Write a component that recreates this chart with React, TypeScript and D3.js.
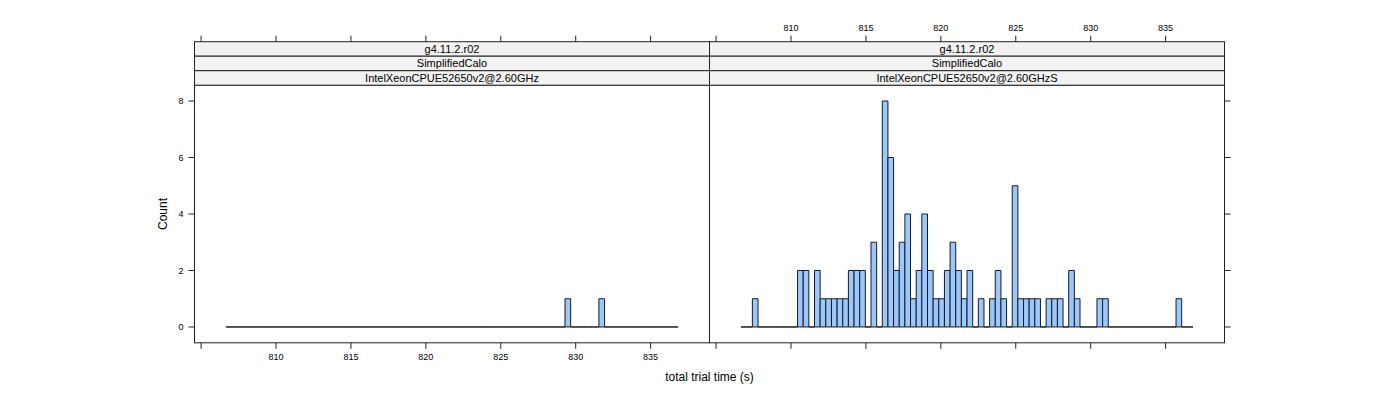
import React from "react";
import * as d3 from "d3";

// ---- data ----
const PANEL_STRIPS = [
  ["g4.11.2.r02", "SimplifiedCalo", "IntelXeonCPUE52650v2@2.60GHz"],
  ["g4.11.2.r02", "SimplifiedCalo", "IntelXeonCPUE52650v2@2.60GHzS"],
];
const BREAK_MIN = 806.667;
const BREAK_MAX = 836.827;
const N_BINS = 80;
// counts per bin (80 bins) for each panel
const countsLeft = [
  0,0,0,0,0,0,0,0,0,0, 0,0,0,0,0,0,0,0,0,0,
  0,0,0,0,0,0,0,0,0,0, 0,0,0,0,0,0,0,0,0,0,
  0,0,0,0,0,0,0,0,0,0, 0,0,0,0,0,0,0,0,0,0,
  1,0,0,0,0,0,1,0,0,0, 0,0,0,0,0,0,0,0,0,0,
];
const countsRight = [
  0,0,1,0,0,0,0,0,0,0, 2,2,0,2,1,1,1,1,1,2,
  2,2,0,3,0,8,6,2,3,4, 1,2,4,2,1,1,2,3,2,1,
  2,0,1,0,1,2,1,0,5,1, 1,1,1,0,1,1,1,0,2,1,
  0,0,0,1,1,0,0,0,0,0, 0,0,0,0,0,0,0,1,0,0,
];
const xTicks = [805, 810, 815, 820, 825, 830, 835];
const xTickLabels = ["", "810", "815", "820", "825", "830", "835"];
const yTicks = [0, 2, 4, 6, 8];
const X_DOMAIN = [804.56, 838.93];
const Y_DOMAIN = [-0.56, 8.56];

// ---- layout ----
const panelLefts = [194.5, 709.5];
const PANEL_W = 515;
const PANEL_TOP = 85.2;
const PANEL_BOTTOM = 342.8;
const STRIP_TOP = 41.7;
const STRIP_H = (PANEL_TOP - STRIP_TOP) / 3;
const FONT = "'Liberation Sans', Arial, Helvetica, sans-serif";

export default function App() {
  const y = d3.scaleLinear().domain(Y_DOMAIN).range([PANEL_BOTTOM, PANEL_TOP]);
  const binW = (BREAK_MAX - BREAK_MIN) / N_BINS;
  const panels = [countsLeft, countsRight];

  return (
    <svg width={1400} height={400} style={{ position: "absolute", left: 0, top: 0 }} fontFamily={FONT}>
      <rect width={1400} height={400} fill="#fff" />
      {panels.map((counts, pi) => {
        const left = panelLefts[pi];
        const x = d3.scaleLinear().domain(X_DOMAIN).range([left, left + PANEL_W]);
        const bins = counts.map((c, i) => ({ x0: BREAK_MIN + i * binW, x1: BREAK_MIN + (i + 1) * binW, c }));
        return (
          <g key={pi}>
            {/* bars */}
            {bins.map((b, i) => {
              const xa = x(b.x0), xb = x(b.x1), y0 = y(0), y1 = y(b.c);
              return (
                <path
                  key={i}
                  d={`M${xa},${y0}V${y1}H${xb}V${y0}Z`}
                  fill="#99c8ff"
                  stroke="#1a1a1a"
                  strokeWidth={1}
                />
              );
            })}
            {/* panel border */}
            <rect x={left} y={PANEL_TOP} width={PANEL_W} height={PANEL_BOTTOM - PANEL_TOP} fill="none" stroke="#222" strokeWidth={1} />
            {/* strips */}
            {PANEL_STRIPS[pi].map((s, si) => {
              const sy = STRIP_TOP + si * STRIP_H;
              return (
                <g key={si}>
                  <rect x={left} y={sy} width={PANEL_W} height={STRIP_H} fill="#f2f2f2" stroke="#222" strokeWidth={1} />
                  <text x={left + PANEL_W / 2} y={sy + STRIP_H / 2} dy="0.35em" textAnchor="middle" fontSize={11} fill="#000">
                    {s}
                  </text>
                </g>
              );
            })}
            {/* x ticks: bottom for both, labels on bottom for left, top for right */}
            {xTicks.map((t, ti) => {
              const tx = x(t);
              return (
                <g key={ti}>
                  <line x1={tx} x2={tx} y1={PANEL_BOTTOM} y2={PANEL_BOTTOM + 6} stroke="#222" />
                  <line x1={tx} x2={tx} y1={STRIP_TOP} y2={STRIP_TOP - 6} stroke="#222" />
                  {pi === 0 ? (
                    <text x={tx} y={357} dy="0.35em" textAnchor="middle" fontSize={9}>{xTickLabels[ti]}</text>
                  ) : (
                    <text x={tx} y={28} dy="0.35em" textAnchor="middle" fontSize={9}>{xTickLabels[ti]}</text>
                  )}
                </g>
              );
            })}
            {/* y ticks */}
            {yTicks.map((t) => {
              const ty = y(t);
              return pi === 0 ? (
                <g key={t}>
                  <line x1={left} x2={left - 6} y1={ty} y2={ty} stroke="#222" />
                  <text x={left - 11} y={ty} dy="0.35em" textAnchor="end" fontSize={9}>{t}</text>
                </g>
              ) : (
                <line key={t} x1={left + PANEL_W} x2={left + PANEL_W + 6} y1={ty} y2={ty} stroke="#222" />
              );
            })}
          </g>
        );
      })}
      <text x={709.5} y={377} dy="0.35em" textAnchor="middle" fontSize={12}>total trial time (s)</text>
      <text transform={`translate(163,${(PANEL_TOP + PANEL_BOTTOM) / 2}) rotate(-90)`} dy="0.35em" textAnchor="middle" fontSize={12}>Count</text>
    </svg>
  );
}
